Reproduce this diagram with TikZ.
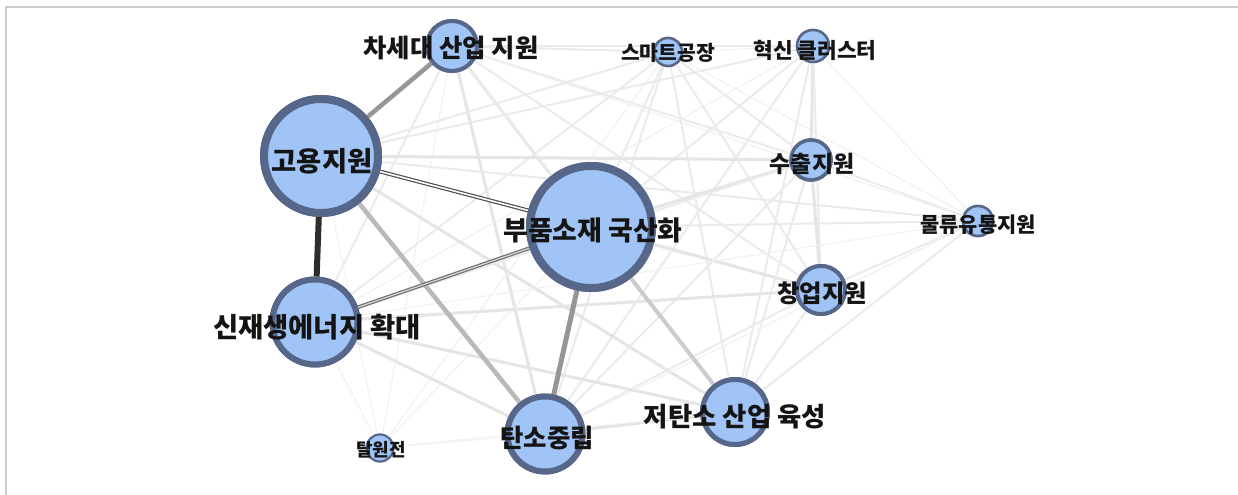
\documentclass[tikz,border=0pt]{standalone}
\usepackage{fontspec}
\setmainfont{Noto Sans CJK KR}
\definecolor{nodefill}{RGB}{160,196,245}
\definecolor{nodeborder}{RGB}{86,103,137}
\definecolor{framegray}{RGB}{204,204,204}
\definecolor{lightA}{RGB}{229,229,229}
\definecolor{lightB}{RGB}{235,235,235}
\definecolor{lightC}{RGB}{240,240,240}
\tikzset{
  vert/.style={circle, draw=nodeborder, fill=nodefill, inner sep=0pt},
  lbl/.style={inner sep=0pt, text=black!92},
  leA/.style={draw=lightA, line width=3bp},
  leB/.style={draw=lightB, line width=2bp},
  leC/.style={draw=lightC, line width=1bp},
}
\newcommand{\fsz}[1]{\fontsize{#1}{#1}\selectfont\bfseries}
\begin{document}
\begin{tikzpicture}[x=1bp,y=-1bp]
\useasboundingbox (0,0) rectangle (1238,495);
\fill[white] (0,0) rectangle (1238,495);
\draw[framegray, line width=2bp] (5.5,495) -- (5.5,7.5) -- (1238,7.5);

% vertices (circles)
\node[vert, minimum size=50bp, line width=4bp] (A) at (452,46) {};
\node[vert, minimum size=28bp, line width=2.5bp] (B) at (668,52) {};
\node[vert, minimum size=32bp, line width=2.5bp] (C) at (813,46) {};
\node[vert, minimum size=114bp, line width=8bp] (D) at (321,156) {};
\node[vert, minimum size=122bp, line width=8bp] (E) at (591,227) {};
\node[vert, minimum size=40bp, line width=3.5bp] (F) at (811,160) {};
\node[vert, minimum size=30bp, line width=2.5bp] (G) at (978,221) {};
\node[vert, minimum size=48bp, line width=4bp] (H) at (821,290) {};
\node[vert, minimum size=85bp, line width=6bp] (I) at (315,322) {};
\node[vert, minimum size=75bp, line width=6bp] (J) at (545,434) {};
\node[vert, minimum size=27bp, line width=2bp] (K) at (380,448) {};
\node[vert, minimum size=65bp, line width=5bp] (L) at (735,412) {};

% light edges
\draw[leB] (A) -- (B); \draw[leB] (A) -- (C); \draw[leA] (A) -- (E);
\draw[leB] (A) -- (F); \draw[leC] (A) -- (G); \draw[leB] (A) -- (H);
\draw[leB] (A) -- (I); \draw[leA] (A) -- (J); \draw[leC] (A) -- (K);
\draw[leB] (A) -- (L);
\draw[leC] (B) -- (C); \draw[leB] (B) -- (D); \draw[leB] (B) -- (E);
\draw[leB] (B) -- (F); \draw[leC] (B) -- (G); \draw[leB] (B) -- (H);
\draw[leB] (B) -- (I); \draw[leB] (B) -- (J); \draw[leC] (B) -- (K);
\draw[leB] (B) -- (L);
\draw[leB] (C) -- (D); \draw[leB] (C) -- (E); \draw[leA] (C) -- (F);
\draw[leC] (C) -- (G); \draw[leB] (C) -- (H); \draw[leC] (C) -- (I);
\draw[leB] (C) -- (J); \draw[leB] (C) -- (L);
\draw[leA] (D) -- (F); \draw[leB] (D) -- (G); \draw[leB] (D) -- (H);
\draw[leA] (D) -- (L); \draw[leC] (D) -- (K);
\draw[leA] (E) -- (F); \draw[leB] (E) -- (G); \draw[leA] (E) -- (H);
\draw[leC] (E) -- (K);
\draw[leB] (F) -- (G); \draw[leA] (F) -- (H); \draw[leB] (F) -- (I);
\draw[leB] (F) -- (J); \draw[leB] (F) -- (L);
\draw[leB] (G) -- (H); \draw[leC] (G) -- (I); \draw[leC] (G) -- (J);
\draw[leB] (G) -- (L);
\draw[leA] (H) -- (I); \draw[leB] (H) -- (J); \draw[leB] (H) -- (L);
\draw[leA] (I) -- (J); \draw[leC] (I) -- (K); \draw[leA] (I) -- (L);
\draw[leC] (J) -- (K); \draw[leA] (J) -- (L); \draw[leC] (K) -- (L);

% strong edges
\draw[draw={rgb,255:red,204;green,204;blue,204}, line width=4bp] (E) -- (L);
\draw[draw={rgb,255:red,185;green,185;blue,185}, line width=4.5bp] (D) -- (J);
\draw[draw={rgb,255:red,150;green,150;blue,150}, line width=5bp] (E) -- (J);
\draw[draw={rgb,255:red,150;green,150;blue,150}, line width=4.5bp] (D) -- (A);
\draw[draw={rgb,255:red,110;green,110;blue,110}, line width=1.2bp, double={rgb,255:red,215;green,215;blue,215}, double distance=1.2bp] (I) -- (E);
\draw[draw={rgb,255:red,80;green,80;blue,80}, line width=1.2bp, double=white, double distance=1.6bp] (D) -- (E);
\draw[draw={rgb,255:red,45;green,45;blue,45}, line width=6bp] (D) -- (I);

% redraw vertices on top of the edges
\foreach \x/\y/\s/\w in {452/46/50/4, 668/52/28/2.5, 813/46/32/2.5, 321/156/114/8, 591/227/122/8, 811/160/40/3.5, 978/221/30/2.5, 821/290/48/4, 315/322/85/6, 545/434/75/6, 380/448/27/2, 735/412/65/5}
  \node[vert, minimum size=\s bp, line width=\w bp] at (\x,\y) {};

% labels
\node[lbl, font=\fsz{25.5}] (lA) at (451,48) {차세대 산업 지원};
\node[lbl, font=\fsz{20.5}] (lB) at (668,53) {스마트공장};
\node[lbl, font=\fsz{21.5}] (lC) at (815,50) {혁신 클러스터};
\node[lbl, font=\fsz{27.5}] (lD) at (322,161) {고용지원};
\node[lbl, font=\fsz{27}] (lE) at (593,230) {부품소재 국산화};
\node[lbl, font=\fsz{23}] (lF) at (812,164) {수출지원};
\node[lbl, font=\fsz{21}] (lG) at (978,225) {물류유통지원};
\node[lbl, font=\fsz{24.5}] (lH) at (822,293) {창업지원};
\node[lbl, font=\fsz{27.5}] (lI) at (317,327) {신재생에너지 확대};
\node[lbl, font=\fsz{25.5}] (lJ) at (547,438) {탄소중립};
\node[lbl, font=\fsz{18}] (lK) at (381,450) {탈원전};
\node[lbl, font=\fsz{26.5}] (lL) at (735,417) {저탄소 산업 육성};
\end{tikzpicture}
\end{document}
